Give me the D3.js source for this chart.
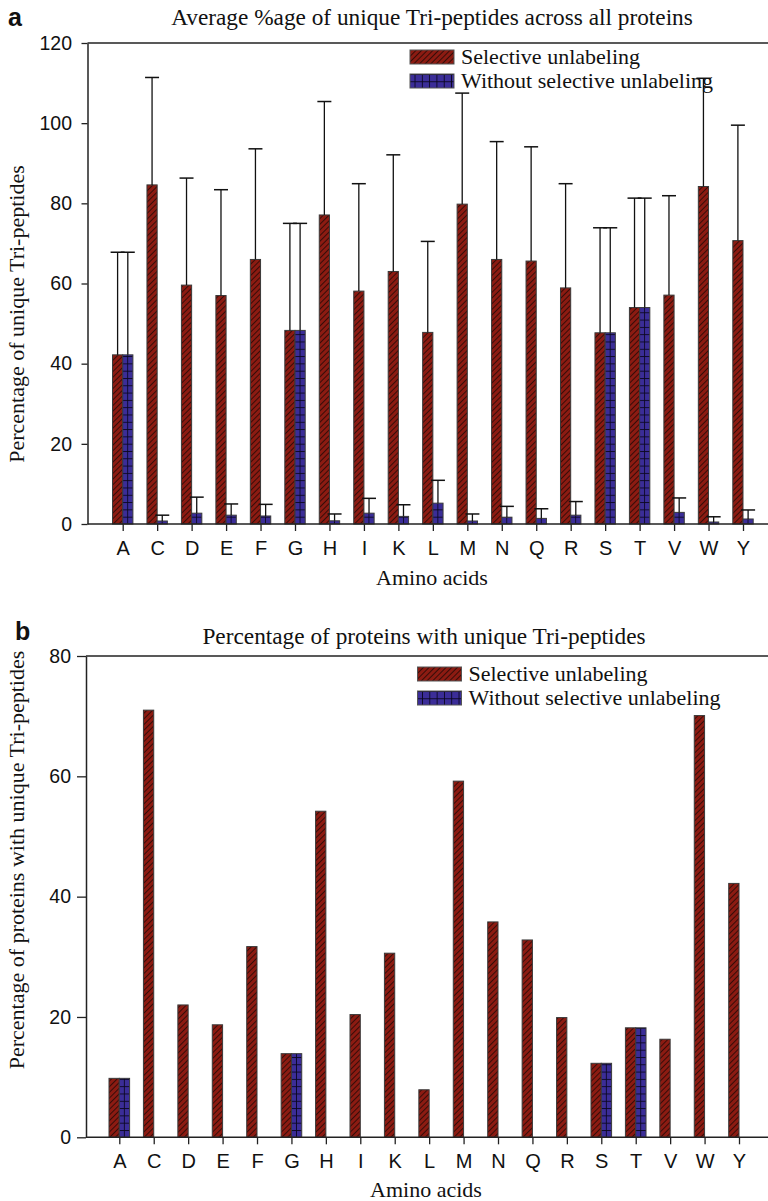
<!DOCTYPE html>
<html>
<head>
<meta charset="utf-8">
<script src="https://cdn.jsdelivr.net/npm/d3@7"></script>
<style>
  body { margin: 0; background: #fff; }
  .serif { font-family: "Liberation Serif", "Times New Roman", serif; fill: #111; }
  .sans { font-family: "Liberation Sans", Arial, sans-serif; fill: #111; }
</style>
</head>
<body>
<div id="chart"></div>
<script>
var aminoAcids = ["A","C","D","E","F","G","H","I","K","L","M","N","Q","R","S","T","V","W","Y"];

// panel a : average %age of unique tri-peptides (bar value + error bar length)
var avgSelective    = [42.2, 84.6, 59.6, 57.0, 66.0, 48.3, 77.1, 58.1, 63.0, 47.8, 79.8, 66.0, 65.6, 58.9, 47.7, 54.0, 57.1, 84.2, 70.7];
var avgSelectiveErr = [25.6, 26.8, 26.7, 26.4, 27.6, 26.7, 28.3, 26.8, 29.1, 22.7, 27.7, 29.4, 28.5, 26.0, 26.2, 27.3, 24.8, 27.0, 28.8];
var avgWithout      = [42.2, 0.75, 2.7, 2.2, 2.0, 48.3, 0.8, 2.7, 1.9, 5.2, 0.75, 1.7, 1.4, 2.2, 47.7, 54.0, 2.9, 0.5, 1.25];
var avgWithoutErr   = [25.6, 1.45, 4.0, 2.8, 2.9, 26.7, 1.7, 3.7, 2.9, 5.7, 1.75, 2.7, 2.4, 3.4, 26.2, 27.3, 3.6, 1.3, 2.25];

// panel b : percentage of proteins with unique tri-peptides
var protSelective = [9.8, 71.0, 22.0, 18.7, 31.7, 13.9, 54.2, 20.4, 30.6, 7.9, 59.2, 35.8, 32.8, 19.9, 12.3, 18.2, 16.3, 70.1, 42.2];
var protWithout   = [9.8, 0, 0, 0, 0, 13.9, 0, 0, 0, 0, 0, 0, 0, 0, 12.3, 18.2, 0, 0, 0];

var yTicksA = [0, 20, 40, 60, 80, 100, 120];
var yTicksB = [0, 20, 40, 60, 80];
var legendLabels = ["Selective unlabeling", "Without selective unlabeling"];

var width = 768, height = 1201;
var redFill = "#8c1b12", blueFill = "#3b2d98";

var svg = d3.select("#chart").append("svg")
  .attr("width", width)
  .attr("height", height);

var defs = svg.append("defs");

// diagonal hatch for the red series
var hatch = defs.append("pattern")
  .attr("id", "hatch")
  .attr("patternUnits", "userSpaceOnUse")
  .attr("width", 4)
  .attr("height", 10)
  .attr("patternTransform", "rotate(45)");
hatch.append("rect").attr("width", 4).attr("height", 10).attr("fill", redFill);
hatch.append("line")
  .attr("x1", 0.5).attr("x2", 0.5).attr("y1", 0).attr("y2", 10)
  .attr("stroke", "#1a0805").attr("stroke-width", 0.75);

// square grid for the blue series
var grid = defs.append("pattern")
  .attr("id", "grid")
  .attr("patternUnits", "userSpaceOnUse")
  .attr("width", 7.3)
  .attr("height", 7.3);
grid.append("rect").attr("width", 7.3).attr("height", 7.3).attr("fill", blueFill);
grid.append("line")
  .attr("x1", 5).attr("x2", 5).attr("y1", 0).attr("y2", 7.3)
  .attr("stroke", "#0a0620").attr("stroke-width", 0.9);
grid.append("line")
  .attr("x1", 0).attr("x2", 7.3).attr("y1", 0.5).attr("y2", 0.5)
  .attr("stroke", "#0a0620").attr("stroke-width", 0.9);

function drawPanel(opt) {
  var g = svg.append("g");

  var x = d3.scalePoint().domain(aminoAcids).range([opt.firstX, opt.lastX]);
  var y = d3.scaleLinear().domain([0, opt.yMax]).range([opt.bottom, opt.top]);
  var bw = opt.barW;

  // top border
  g.append("line")
    .attr("x1", opt.left).attr("x2", width)
    .attr("y1", opt.top).attr("y2", opt.top)
    .attr("stroke", "#222").attr("stroke-width", 1.5);

  var yAxis = g.append("g")
    .attr("transform", "translate(" + opt.left + ",0)")
    .call(d3.axisLeft(y).tickValues(opt.yTicks).tickSize(opt.yTickLen).tickPadding(opt.yPad).tickSizeOuter(0));
  yAxis.select(".domain").attr("stroke", "#222").attr("stroke-width", 1.5);
  yAxis.selectAll(".tick line").attr("stroke", "#222").attr("stroke-width", 1.3);
  yAxis.selectAll(".tick text")
    .attr("class", "sans")
    .style("font-size", "19.5px")
    .attr("fill", "#111");

  var xAxis = g.append("g")
    .attr("transform", "translate(0," + opt.bottom + ")")
    .call(d3.axisBottom(x).tickSize(7).tickPadding(9.5));
  xAxis.select(".domain").remove();
  xAxis.selectAll(".tick line").attr("stroke", "#222").attr("stroke-width", 1.3);
  xAxis.selectAll(".tick text")
    .attr("class", "sans")
    .style("font-size", "20px")
    .attr("fill", "#111");

  // bars
  var series = [
    {values: opt.sel, err: opt.selErr, fill: "url(#hatch)", dx: -bw},
    {values: opt.wo, err: opt.woErr, fill: "url(#grid)", dx: 0}
  ];

  series.forEach(function(s) {
    var bars = g.append("g").selectAll("g")
      .data(aminoAcids.map(function(a, i) { return {name: a, v: s.values[i], e: s.err ? s.err[i] : 0}; })
        .filter(function(d) { return d.v > 0; }))
      .enter()
      .append("g")
      .attr("transform", function(d) {
        return "translate(" + (x(d.name) + s.dx) + "," + opt.bottom + ")";
      });

    bars.append("rect")
      .attr("x", 0)
      .attr("y", function(d) { return y(d.v) - opt.bottom; })
      .attr("width", bw)
      .attr("height", function(d) { return opt.bottom - y(d.v); })
      .attr("fill", s.fill)
      .attr("stroke", "#3a3a3a")
      .attr("stroke-width", 1);

    if (s.err) {
      bars.append("line")
        .attr("x1", bw / 2).attr("x2", bw / 2)
        .attr("y1", function(d) { return y(d.v) - opt.bottom; })
        .attr("y2", function(d) { return y(d.v + d.e) - opt.bottom; })
        .attr("stroke", "#111").attr("stroke-width", 1.3);
      bars.append("line")
        .attr("x1", bw / 2 - 7).attr("x2", bw / 2 + 7)
        .attr("y1", function(d) { return y(d.v + d.e) - opt.bottom; })
        .attr("y2", function(d) { return y(d.v + d.e) - opt.bottom; })
        .attr("stroke", "#111").attr("stroke-width", 1.5);
    }
  });

  // bottom axis line on top of the bars
  g.append("line")
    .attr("x1", opt.left).attr("x2", width)
    .attr("y1", opt.bottom).attr("y2", opt.bottom)
    .attr("stroke", "#222").attr("stroke-width", 1.5);

  // legend
  var legend = g.append("g")
    .attr("transform", "translate(" + opt.legendX + "," + opt.legendY + ")");
  legendLabels.forEach(function(label, i) {
    var row = legend.append("g").attr("transform", "translate(0," + (i * 24) + ")");
    row.append("rect")
      .attr("width", 44).attr("height", 14)
      .attr("fill", i == 0 ? "url(#hatch)" : "url(#grid)")
      .attr("stroke", "#555").attr("stroke-width", 1);
    row.append("text")
      .attr("class", "serif")
      .attr("x", 51).attr("y", 14)
      .style("font-size", "22px")
      .text(label);
  });

  // titles
  g.append("text")
    .attr("class", "serif")
    .attr("x", opt.titleX).attr("y", opt.titleY)
    .attr("text-anchor", "middle")
    .style("font-size", "23.3px")
    .text(opt.title);

  g.append("text")
    .attr("class", "sans")
    .attr("x", opt.letterX).attr("y", opt.letterY)
    .style("font-size", "25px")
    .style("font-weight", "bold")
    .text(opt.letter);

  g.append("text")
    .attr("class", "serif")
    .attr("x", opt.xTitleX).attr("y", opt.xTitleY)
    .attr("text-anchor", "middle")
    .style("font-size", "22px")
    .text("Amino acids");

  g.append("text")
    .attr("class", "serif")
    .attr("transform", "translate(24," + opt.yTitleY + ") rotate(-90)")
    .attr("text-anchor", "middle")
    .style("font-size", "22px")
    .text(opt.yTitle);
}

drawPanel({
  letter: "a", letterX: 8, letterY: 26,
  title: "Average %age of unique Tri-peptides across all proteins",
  titleX: 432, titleY: 25, xTitleX: 432, xTitleY: 585,
  yTitle: "Percentage of unique Tri-peptides", yTitleY: 314,
  left: 87.5, top: 43, bottom: 524, yMax: 120, yTicks: yTicksA,
  yTickLen: 6, yPad: 9.5,
  firstX: 122.7, lastX: 743, barW: 10.2,
  sel: avgSelective, selErr: avgSelectiveErr, wo: avgWithout, woErr: avgWithoutErr,
  legendX: 410, legendY: 50
});

drawPanel({
  letter: "b", letterX: 15, letterY: 640,
  title: "Percentage of proteins with unique Tri-peptides",
  titleX: 424, titleY: 644, xTitleX: 426, xTitleY: 1197,
  yTitle: "Percentage of proteins with unique Tri-peptides", yTitleY: 860,
  left: 86, top: 656, bottom: 1137.3, yMax: 80, yTicks: yTicksB,
  yTickLen: 9, yPad: 6,
  firstX: 119.3, lastX: 739, barW: 10.3,
  sel: protSelective, selErr: null, wo: protWithout, woErr: null,
  legendX: 417.5, legendY: 667
});
</script>
</body>
</html>
